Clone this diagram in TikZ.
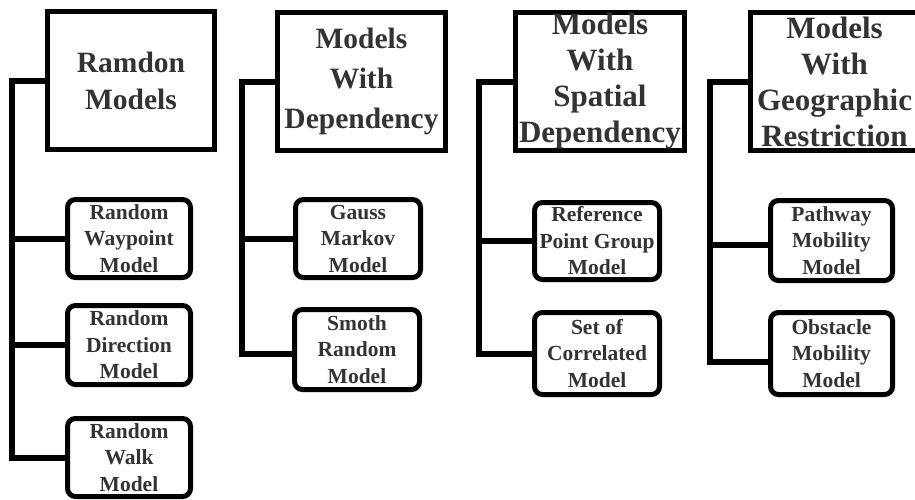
\documentclass[tikz,border=0pt]{standalone}
\usepackage{fontspec}
\setmainfont{Liberation Serif}
\definecolor{txtgray}{HTML}{333333}
\begin{document}
\begin{tikzpicture}[x=1pt,y=-1pt,
  parentbox/.style={draw=black, line width=5pt, inner sep=0pt, align=center, text=txtgray, font=\bfseries\fontsize{29.5}{37}\selectfont},
  childbox/.style={draw=black, line width=5pt, rounded corners=8pt, inner sep=0pt, align=center, text=txtgray, font=\bfseries\fontsize{21.5}{26.5}\selectfont},
  conn/.style={line width=6pt, line join=miter}]
\useasboundingbox (0,0) rectangle (915,499);
\clip (0,0) rectangle (915,499);

% column 1
\node[parentbox, minimum width=167pt, minimum height=138pt] (p1) at (131,80.5) {Ramdon\\Models};
\node[childbox, minimum width=123pt, minimum height=78pt] (c11) at (129,238.5) {Random\\Waypoint\\Model};
\node[childbox, minimum width=123pt, minimum height=79pt] (c12) at (129,345) {Random\\Direction\\Model};
\node[childbox, minimum width=123pt, minimum height=78pt] (c13) at (129,457.5) {Random\\Walk\\Model};
\coordinate (v1) at (12,0);
\draw[conn] (p1.west) -- (p1.west -| v1) |- (c13.west);
\draw[conn] (c11.west) -- (c11.west -| v1);
\draw[conn] (c12.west) -- (c12.west -| v1);

% column 2
\node[parentbox, font=\bfseries\fontsize{29.5}{40}\selectfont, minimum width=168pt, minimum height=138pt] (p2) at (361.5,81.5) {Models\\With\\Dependency};
\node[childbox, minimum width=125pt, minimum height=78pt] (c21) at (358,238.5) {Gauss\\Markov\\Model};
\node[childbox, minimum width=125pt, minimum height=80pt] (c22) at (357,349.5) {Smoth\\Random\\Model};
\coordinate (v2) at (241.5,0);
\draw[conn] (p2.west) -- (p2.west -| v2) |- ([yshift=-4pt]c22.west);
\draw[conn] (c21.west) -- (c21.west -| v2);

% column 3
\node[parentbox, font=\bfseries\fontsize{31}{36}\selectfont, minimum width=169pt, minimum height=138pt] (p3) at (600,81.5) {Models\\With\\Spatial\\Dependency};
\node[childbox, minimum width=125pt, minimum height=77pt] (c31) at (597,241) {Reference\\Point Group\\Model};
\node[childbox, minimum width=125pt, minimum height=82pt] (c32) at (597,353.5) {Set of\\Correlated\\Model};
\coordinate (v3) at (479,0);
\draw[conn] (p3.west) -- (p3.west -| v3) |- (c32.west);
\draw[conn] (c31.west) -- (c31.west -| v3);

% column 4
\node[parentbox, font=\bfseries\fontsize{31}{36}\selectfont, minimum width=168pt, minimum height=138pt] (p4) at (834.5,81.5) {Models\\With\\Geographic\\Restriction};
\node[childbox, minimum width=122pt, minimum height=80pt] (c41) at (831.5,240.5) {Pathway\\Mobility\\Model};
\node[childbox, minimum width=122pt, minimum height=82pt] (c42) at (831.5,353.5) {Obstacle\\Mobility\\Model};
\coordinate (v4) at (710,0);
\draw[conn] (p4.west) -- (p4.west -| v4) |- ([yshift=-8.5pt]c42.west);
\draw[conn] ([yshift=-4.5pt]c41.west) -- ([yshift=-4.5pt]c41.west -| v4);
\end{tikzpicture}
\end{document}
